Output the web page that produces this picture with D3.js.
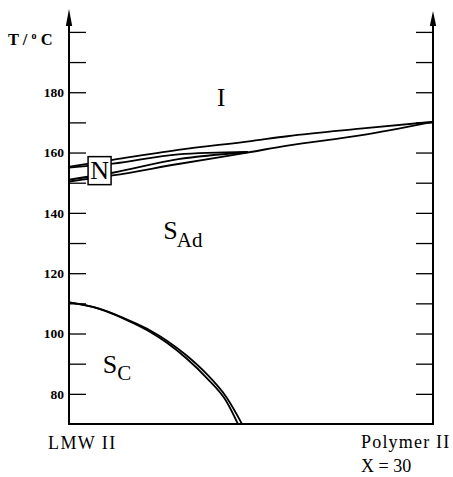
<!DOCTYPE html>
<html>
<head>
<meta charset="utf-8">
<script src="https://cdn.jsdelivr.net/npm/d3@7"></script>
<style>
  body { margin: 0; background: #fff; }
  svg { display: block; }
  svg text { font-family: "Liberation Serif", "Times New Roman", "DejaVu Serif", serif; }
</style>
</head>
<body>
<svg id="chart" width="453" height="477"></svg>
<script>
// composition: 0 = LMW II, 1 = Polymer II (X = 30); temperatures in deg C
const tickValues = d3.range(80, 201, 10);
const tickLabels = [80, 100, 120, 140, 160, 180];

// I / I+N boundary (upper)
const isoTop = [[0, 155.3], [0.12, 157.6], [0.3, 160.9], [0.5, 163.8], [0.6, 165.4], [0.8, 167.9], [1, 170.2]];
// I+N / N boundary
const isoN = [[0, 155.0], [0.12, 156.3], [0.3, 159.4], [0.49, 160.2]];
// N / N+SAd boundary
const nSmA = [[0, 151.0], [0.12, 153.3], [0.3, 157.8], [0.49, 160.1]];
// N+SAd / SAd boundary (lower)
const smaBottom = [[0, 150.4], [0.12, 152.4], [0.3, 156.2], [0.49, 160.0], [0.6, 162.3], [0.8, 165.7], [1, 170.2]];

// SAd / SC boundaries
const scOuter = [[0, 110.3], [0.085, 108.2], [0.177, 103.7], [0.223, 101.0], [0.268, 97.7], [0.323, 92.7], [0.378, 86.6], [0.433, 78.8], [0.482, 68.5]];
const scInner = [[0, 110.3], [0.085, 108.1], [0.177, 103.4], [0.223, 100.5], [0.268, 97.0], [0.323, 91.7], [0.378, 85.3], [0.433, 77.4], [0.47, 68.5]];

const svg = d3.select('#chart');

const x = d3.scaleLinear().domain([0, 1]).range([69, 433]);
const y = d3.scaleLinear().domain([70, 200]).range([424, 31.9]);

svg.append('defs').append('clipPath').attr('id', 'plot')
  .append('rect')
  .attr('x', x(0)).attr('y', 0)
  .attr('width', x(1) - x(0)).attr('height', y(70));

// left axis ticks + labels (ticks point inward)
const left = svg.append('g')
  .attr('transform', `translate(${x(0)},0)`)
  .call(d3.axisLeft(y).tickValues(tickValues).tickSize(-17).tickPadding(5)
    .tickFormat(d => tickLabels.includes(d) ? d : ''))
  .attr('font-family', '"Liberation Serif", "Times New Roman", serif');
left.select('.domain').remove();
left.selectAll('.tick line').attr('stroke', '#000').attr('stroke-width', 1.3);
left.selectAll('.tick text')
  .style('font-family', '"Liberation Serif", "Times New Roman", serif')
  .attr('font-weight', 'bold')
  .attr('font-size', 13.5)
  .attr('fill', '#000');

// right axis ticks
const right = svg.append('g')
  .attr('transform', `translate(${x(1)},0)`)
  .call(d3.axisRight(y).tickValues(tickValues).tickSize(-17).tickFormat(''));
right.select('.domain').remove();
right.selectAll('.tick line').attr('stroke', '#000').attr('stroke-width', 1.3);

// axis lines
const axisG = svg.append('g').attr('stroke', '#000').attr('stroke-width', 2).attr('fill', 'none');
axisG.append('line').attr('x1', x(0)).attr('x2', x(0)).attr('y1', y(70)).attr('y2', 20);
axisG.append('line').attr('x1', x(1)).attr('x2', x(1)).attr('y1', y(70)).attr('y2', 22);
axisG.append('line').attr('x1', x(0) - 1).attr('x2', x(1) + 1).attr('y1', y(70)).attr('y2', y(70));

// arrow heads
function arrow(cx, tip, base) {
  svg.append('path')
    .attr('d', `M${cx},${tip} L${cx - 3.2},${base} L${cx + 3.2},${base} Z`)
    .attr('fill', '#000');
}
arrow(x(0), 9, 26);
arrow(x(1), 11, 26);

// phase boundaries
const line = d3.line()
  .x(d => x(d[0]))
  .y(d => y(d[1]))
  .curve(d3.curveMonotoneX);

const curves = svg.append('g').attr('clip-path', 'url(#plot)')
  .attr('fill', 'none').attr('stroke', '#000').attr('stroke-width', 1.8)
  .attr('stroke-linecap', 'round');

[isoTop, isoN, nSmA, smaBottom, scOuter, scInner].forEach(s => {
  curves.append('path').datum(s).attr('d', line);
});

// N box
const nc = [0.084, 154.0];
svg.append('rect')
  .attr('x', x(nc[0]) - 11.5).attr('y', y(nc[1]) - 14)
  .attr('width', 23).attr('height', 28)
  .attr('fill', '#fff').attr('stroke', '#000').attr('stroke-width', 1.5);
svg.append('text')
  .attr('x', x(nc[0])).attr('y', y(nc[1]) + 8.5)
  .attr('text-anchor', 'middle').attr('font-size', 26)
  .text('N');

// phase labels
svg.append('text')
  .attr('x', x(0.418)).attr('y', y(175.3))
  .attr('text-anchor', 'middle').attr('font-size', 25)
  .text('I');

const sad = svg.append('text')
  .attr('x', x(0.259)).attr('y', y(131.4))
  .attr('font-size', 26);
sad.append('tspan').text('S');
sad.append('tspan').attr('font-size', 21).attr('dy', 8).attr('dx', -1).text('Ad');

const sc = svg.append('text')
  .attr('x', x(0.093)).attr('y', y(87.0))
  .attr('font-size', 26);
sc.append('tspan').text('S');
sc.append('tspan').attr('font-size', 21).attr('dy', 7.6).attr('dx', 0).text('C');

// axis title
const title = svg.append('text')
  .attr('x', 8).attr('y', 45)
  .attr('font-weight', 'bold').attr('font-size', 16.5);
title.append('tspan').text('T / ');
title.append('tspan').attr('font-size', 10).attr('dy', -6).text('o');
title.append('tspan').attr('dy', 6).text(' C');

// composition labels
svg.append('text')
  .attr('x', 48).attr('y', 449)
  .attr('font-size', 18).attr('letter-spacing', 1.4)
  .text('LMW II');
svg.append('text')
  .attr('x', 361).attr('y', 448)
  .attr('font-size', 18).attr('letter-spacing', 1.2)
  .text('Polymer II');
svg.append('text')
  .attr('x', 361).attr('y', 472)
  .attr('font-size', 18)
  .text('X = 30');
</script>
</body>
</html>
